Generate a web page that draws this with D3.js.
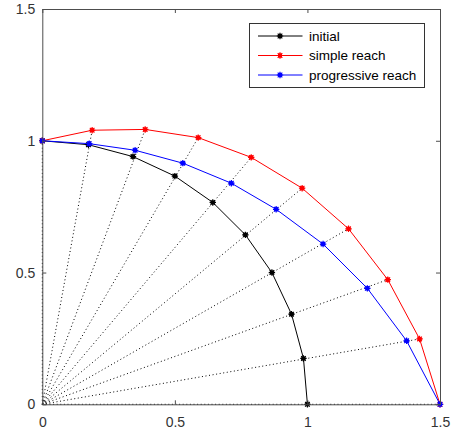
<!DOCTYPE html>
<html>
<head>
<meta charset="utf-8">
<script src="https://cdn.jsdelivr.net/npm/d3@7"></script>
<style>
  body { margin: 0; background: white; }
  text { font-family: "Liberation Sans", Arial, sans-serif; }
</style>
</head>
<body>
<div id="graf"></div>
<script>
// Datos
const ticks = [0, 0.5, 1, 1.5]
const tickLabels = ['0', '0.5', '1', '1.5']

const initialX = [0, 0.174, 0.342, 0.5, 0.643, 0.766, 0.866, 0.94, 0.985, 1]
const initialY = [1, 0.985, 0.94, 0.866, 0.766, 0.643, 0.5, 0.342, 0.174, 0]

const simpleX = [0, 0.188, 0.388, 0.588, 0.788, 0.98, 1.155, 1.303, 1.423, 1.5]
const simpleY = [1, 1.04, 1.043, 1.012, 0.937, 0.82, 0.666, 0.473, 0.248, 0]

const progX = [0, 0.177, 0.35, 0.53, 0.713, 0.882, 1.059, 1.226, 1.374, 1.5]
const progY = [1, 0.989, 0.964, 0.915, 0.839, 0.74, 0.608, 0.44, 0.241, 0]

const seriesNames = ['initial', 'simple reach', 'progressive reach']
const seriesColors = ['#000000', '#ff0000', '#0000ff']

const series = [
  { name: seriesNames[0], color: seriesColors[0], pts: initialX.map((x, i) => [x, initialY[i]]) },
  { name: seriesNames[1], color: seriesColors[1], pts: simpleX.map((x, i) => [x, simpleY[i]]) },
  { name: seriesNames[2], color: seriesColors[2], pts: progX.map((x, i) => [x, progY[i]]) }
]

// Dimensiones
const anchoTotal = 453
const altoTotal = 435
const margins = { left: 42.3, right: 13, top: 9, bottom: 30.7 }
const axisColor = '#4d4d4d'

const svg = d3.select('#graf')
  .append('svg')
  .attr('width', anchoTotal)
  .attr('height', altoTotal)

const x = d3.scaleLinear().domain([0, 1.5]).range([margins.left, anchoTotal - margins.right])
const y = d3.scaleLinear().domain([0, 1.5]).range([altoTotal - margins.bottom, margins.top])

// Lineas punteadas desde el origen
svg.append('g')
  .selectAll('line')
  .data(series[1].pts)
  .enter()
  .append('line')
  .attr('x1', x(0))
  .attr('y1', y(0))
  .attr('x2', (d) => x(d[0]))
  .attr('y2', (d) => y(d[1]))
  .attr('stroke', '#000')
  .attr('stroke-width', 1)
  .attr('stroke-dasharray', '1,2.6')

// Marcador asterisco
const star = (r) => {
  const d = r * 0.72
  return `M${-r},0L${r},0M0,${-r}L0,${r}M${-d},${-d}L${d},${d}M${-d},${d}L${d},${-d}`
}

const line = d3.line().x((d) => x(d[0])).y((d) => y(d[1]))

series.forEach((s) => {
  const g = svg.append('g')
  g.append('path')
    .datum(s.pts)
    .attr('fill', 'none')
    .attr('stroke', s.color)
    .attr('stroke-width', 1)
    .attr('d', line)
  g.selectAll('.mk')
    .data(s.pts)
    .enter()
    .append('g')
    .attr('transform', (d) => `translate(${x(d[0])},${y(d[1])})`)
    .call((m) => {
      m.append('circle').attr('r', 2.3).attr('fill', s.color)
      m.append('path').attr('d', star(3.2)).attr('stroke', s.color).attr('stroke-width', 1.2)
    })
})

// Ejes
const fmt = (d) => tickLabels[ticks.indexOf(d)]

const styleAxis = (sel) => {
  sel.selectAll('path').attr('stroke', axisColor)
  sel.selectAll('line').attr('stroke', axisColor)
  sel.selectAll('text')
    .attr('fill', '#333')
    .style('font-size', '14px')
    .style('font-family', '"Liberation Sans", Arial, sans-serif')
}

svg.append('g')
  .attr('transform', `translate(0,${y(0)})`)
  .call(d3.axisBottom(x).tickValues(ticks).tickFormat(fmt).tickSizeInner(-4).tickSizeOuter(0).tickPadding(13))
  .call(styleAxis)

svg.append('g')
  .attr('transform', `translate(${x(0)},0)`)
  .call(d3.axisLeft(y).tickValues(ticks).tickFormat(fmt).tickSizeInner(-4).tickSizeOuter(0).tickPadding(7))
  .call(styleAxis)

svg.append('g')
  .attr('transform', `translate(0,${y(1.5)})`)
  .call(d3.axisTop(x).tickValues(ticks).tickFormat('').tickSizeInner(-4).tickSizeOuter(0))
  .call(styleAxis)

svg.append('g')
  .attr('transform', `translate(${x(1.5)},0)`)
  .call(d3.axisRight(y).tickValues(ticks).tickFormat('').tickSizeInner(-4).tickSizeOuter(0))
  .call(styleAxis)

// Leyenda
const legend = svg.append('g').attr('transform', 'translate(249.5,23.5)')

legend.append('rect')
  .attr('width', 175)
  .attr('height', 64)
  .attr('fill', 'white')
  .attr('stroke', '#333')
  .attr('stroke-width', 1)

const items = legend.selectAll('.item')
  .data(series)
  .enter()
  .append('g')
  .attr('transform', (d, i) => `translate(0,${12.5 + i * 19.5})`)

items.append('line')
  .attr('x1', 8.5)
  .attr('x2', 53)
  .attr('stroke', (d) => d.color)
  .attr('stroke-width', 1)

items.append('circle')
  .attr('cx', 30.5)
  .attr('r', 2.3)
  .attr('fill', (d) => d.color)

items.append('path')
  .attr('transform', 'translate(30.5,0)')
  .attr('d', star(3.2))
  .attr('stroke', (d) => d.color)
  .attr('stroke-width', 1.2)

items.append('text')
  .attr('x', 59.5)
  .attr('dy', '0.35em')
  .attr('fill', '#000')
  .style('font-size', '13.5px')
  .text((d) => d.name)
</script>
</body>
</html>
